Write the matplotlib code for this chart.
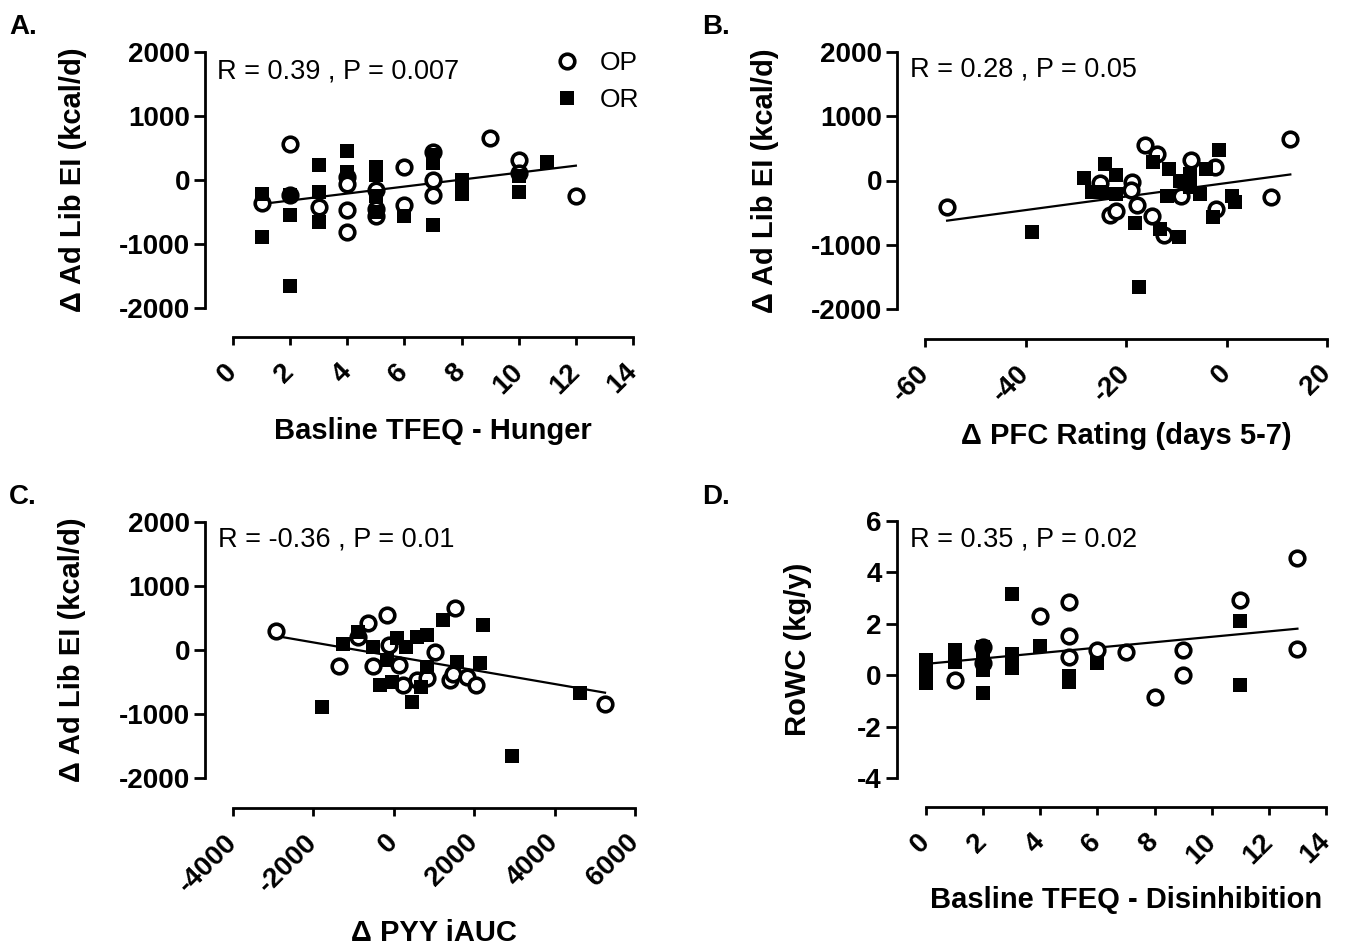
import numpy as np
import matplotlib.pyplot as plt

plt.rcParams['font.family'] = ['Liberation Sans', 'DejaVu Sans']
plt.rcParams['axes.unicode_minus'] = False

# ---- data ----
# A: baseline TFEQ hunger vs delta ad lib EI
a_op_x = [1, 2, 2, 3, 4, 4, 4, 4, 5, 5, 5, 6, 6, 7, 7, 7, 9, 10, 10, 12]
a_op_y = [-365, 557, -230, -427, 50, -60, -470, -820, -150, -450, -560, 208, -390,
          430, 0, -240, 661, 312, 104, -250]
a_or_x = [1, 1, 2, 2, 2, 3, 3, 3, 4, 4, 5, 5, 5, 5, 6, 7, 7, 7, 8, 8, 10, 10, 11]
a_or_y = [-220, -885, -230, -547, -1651, 234, -182, -651, 460, 120, 200, 80, -250,
          -500, -557, 390, 260, -703, 0, -220, 60, -190, 286]
a_fit_x = [1, 12]
a_fit_y = [-375, 224]

# B: delta PFC rating vs delta ad lib EI
b_op_x = [-55.6, -16.2, -25.2, -18.9, -19.0, -23.2, -21.9, -17.9, -14.9, -12.5, -9.1,
          -7.0, -2.3, -2.0, 8.8, 12.7, -13.9]
b_op_y = [-417, 557, -42, -26, -146, -531, -469, -375, -547, -844, -234, 312, 208,
          -443, -260, 651, 417]
b_or_x = [-28.3, -24.2, -21.9, -26.8, -24.7, -21.9, -18.2, -14.6, -13.2, -9.4, -11.4,
          -9.2, -11.8, -7.3, -5.3, -4.0, -2.6, -1.5, 1.0, 1.7, -38.8, -17.4, -7.3]
b_or_y = [42, 250, 78, -182, -182, -208, -667, 286, -755, -885, 182, 0, -234, 104,
          -208, 182, -573, 469, -234, -339, -807, -1656, -104]
b_fit_x = [-55.6, 12.7]
b_fit_y = [-625, 94]

# C: delta PYY iAUC vs delta ad lib EI
c_op_x = [-2930, -1355, -633, -178, -882, -119, -510, 129, 237, 569, 834, 1025, 1398,
          1481, 1522, 1813, 2037, 5254]
c_op_y = [302, -245, 417, 547, 208, 78, -245, -234, -547, -469, -443, -26, -469, -375,
          651, -417, -547, -844]
c_or_x = [-1255, -882, -526, -178, 71, -343, -53, 444, 569, 817, 677, 817, 1232, 1564,
          2144, 2211, 4632, -1794, 2932, 300]
c_or_y = [94, 286, 52, -156, 182, -547, -495, -807, 208, 234, -573, -260, 469, -182,
          -208, 391, -667, -885, -1656, 50]
c_fit_x = [-2930, 5254]
c_fit_y = [219, -667]

# D: baseline TFEQ disinhibition vs RoWC
d_op_x = [1, 2, 2, 4, 5, 5, 5, 6, 7, 8, 9, 9, 11, 13, 13]
d_op_y = [-0.18, 1.1, 0.47, 2.29, 2.83, 1.53, 0.70, 0.99, 0.90, -0.83, 0.99, -0.01,
          2.94, 4.56, 1.01]
d_or_x = [0, 0, 0, 0, 1, 1, 1, 2, 2, 2, 2, 3, 3, 3, 4, 5, 5, 6, 11, 11]
d_or_y = [0.6, 0.3, 0.05, -0.3, 1.0, 0.7, 0.5, 1.1, 0.65, 0.2, -0.68, 3.15, 0.83, 0.27,
          1.12, -0.05, -0.25, 0.47, 2.09, -0.38]
d_fit_x = [0, 13]
d_fit_y = [0.44, 1.81]

W, H = 1350, 950
fig = plt.figure(figsize=(W / 100, H / 100), dpi=100)


def rect(left, top, right, bottom):
    return [left / W, (H - bottom) / H, (right - left) / W, (bottom - top) / H]


def panel(r, opx, opy, orx, ory, fx, fy, xlim, xt, ylim, yt, xlab, ylab,
          stat, ylab_x, xlab_y, offs):
    ax = fig.add_axes(r)
    ax.plot(fx, fy, color='black', lw=1.6, zorder=2)
    op, = ax.plot(opx, opy, 'o', ms=10.5, mfc='white', mec='black', mew=2.6,
                  clip_on=False, zorder=3, label='OP', ls='none')
    orr, = ax.plot(orx, ory, 's', ms=10.5, mfc='black', mec='black', mew=0,
                   clip_on=False, zorder=4, label='OR', ls='none')
    ax.set_xlim(xlim)
    ax.set_ylim(ylim)
    ax.set_xticks(xt)
    ax.set_yticks(yt)
    for s in ['top', 'right']:
        ax.spines[s].set_visible(False)
    ax.spines['left'].set_position(('outward', offs[0]))
    ax.spines['bottom'].set_position(('outward', offs[1]))
    ax.spines['left'].set_linewidth(2)
    ax.spines['bottom'].set_linewidth(2)
    ax.tick_params(axis='both', width=2, labelsize=20, direction='out')
    ax.tick_params(axis='y', length=8, pad=3)
    ax.tick_params(axis='x', length=6, pad=16)
    for t in ax.get_yticklabels():
        t.set_fontweight('bold')
    for t in ax.get_xticklabels():
        t.set_fontweight('bold')
        t.set_rotation(45)
        t.set_ha('right')
        t.set_va('center')
        t.set_rotation_mode('anchor')
    ax.set_xlabel(xlab, fontsize=21, fontweight='bold')
    ax.set_ylabel(ylab, fontsize=21, fontweight='bold')
    ax.yaxis.set_label_coords(ylab_x, 0.5)
    ax.xaxis.set_label_coords(0.5, xlab_y)
    ax.text(0.0, 1.0, stat, transform=ax.transAxes, fontsize=19.5,
            va='baseline', ha='left')
    return ax, op, orr


ylab_ei = '\u0394 Ad Lib EI (kcal/d)'
yt_ei = [-2000, -1000, 0, 1000, 2000]

axA, op, orr = panel(rect(233, 52, 633, 308), a_op_x, a_op_y, a_or_x, a_or_y,
                     a_fit_x, a_fit_y, (0, 14), range(0, 15, 2), (-2000, 2000), yt_ei,
                     'Basline TFEQ - Hunger', ylab_ei, 'R = 0.39 , P = 0.007',
                     -0.365, -0.425, (20, 21))
axA.texts[0].set_position(((217 - 233) / 400, (308 - 78) / 256))
axA.legend(handles=[op, orr], loc='upper left', frameon=False, fontsize=19,
           handlelength=1.0, handletextpad=0.75, labelspacing=0.5, borderpad=0,
           borderaxespad=0, bbox_to_anchor=(554 / W, 1 - 51 / H),
           bbox_transform=fig.transFigure)

axB, _, _ = panel(rect(925, 52, 1327, 309), b_op_x, b_op_y, b_or_x, b_or_y,
                  b_fit_x, b_fit_y, (-60, 20), range(-60, 21, 20), (-2000, 2000), yt_ei,
                  '\u0394 PFC Rating (days 5-7)', ylab_ei, 'R = 0.28 , P = 0.05',
                  -0.363, -0.44, (20, 21.5))
axB.texts[0].set_position(((910 - 925) / 402, (309 - 77) / 257))

axC, _, _ = panel(rect(233, 522, 635, 778), c_op_x, c_op_y, c_or_x, c_or_y,
                  c_fit_x, c_fit_y, (-4000, 6000), range(-4000, 6001, 2000),
                  (-2000, 2000), yt_ei, '\u0394 PYY iAUC', ylab_ei,
                  'R = -0.36 , P = 0.01', -0.365, -0.55, (20, 21.5))
axC.texts[0].set_position(((218 - 233) / 402, (778 - 547) / 256))

axD, _, _ = panel(rect(926, 521, 1326, 778), d_op_x, d_op_y, d_or_x, d_or_y,
                  d_fit_x, d_fit_y, (0, 14), range(0, 15, 2), (-4, 6), range(-4, 7, 2),
                  'Basline TFEQ - Disinhibition', 'RoWC (kg/y)', 'R = 0.35 , P = 0.02',
                  -0.285, -0.42, (21, 21))
axD.texts[0].set_position(((910 - 926) / 400, (778 - 547) / 257))

for lab, px, py in [('A.', 9, 34), ('B.', 702, 34), ('C.', 9, 504), ('D.', 702, 504)]:
    fig.text(px / W, 1 - py / H, lab, fontsize=20, fontweight='bold', va='baseline')

fig.savefig('out.png', dpi=100)
